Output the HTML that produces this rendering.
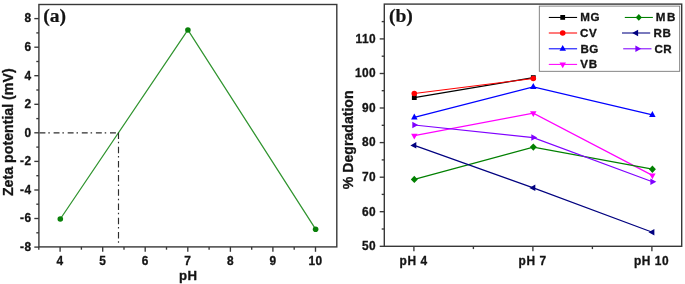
<!DOCTYPE html>
<html><head><meta charset="utf-8"><title>Zeta potential and degradation vs pH</title>
<style>
html,body{margin:0;padding:0;background:#fff;}
body{width:685px;height:284px;overflow:hidden;font-family:"Liberation Sans",sans-serif;}
svg{display:block}
.t{font-family:"Liberation Sans",sans-serif;font-weight:bold;fill:#141414;}
.s{font-family:"Liberation Serif",serif;font-weight:bold;fill:#141414;}
</style></head><body>
<svg width="685" height="284" viewBox="0 0 685 284">
<rect width="685" height="284" fill="#fff"/>
<g opacity="0.999">
<!-- panel a -->
<polyline fill="none" stroke="#30942f" stroke-width="1.25" points="60.3,219.0 187.9,30.0 315.6,229.2"/>
<circle cx="60.3" cy="219.0" r="2.8" fill="#0a800a"/>
<circle cx="187.9" cy="30.0" r="2.8" fill="#0a800a"/>
<circle cx="315.6" cy="229.2" r="2.8" fill="#0a800a"/>
<line x1="39.5" y1="132.85" x2="118.5" y2="132.85" stroke="#2e2e2e" stroke-width="1.15" stroke-dasharray="5.9 2.9 1.5 3.8"/>
<line x1="118.5" y1="132.5" x2="118.5" y2="242.7" stroke="#2e2e2e" stroke-width="1.15" stroke-dasharray="6.5 2.85 1.5 3.35"/>
<rect x="38.9" y="4.5" width="297.9" height="242.4" fill="none" stroke="#383838" stroke-width="1.4"/>
<line x1="34.3" y1="247.1" x2="38.9" y2="247.1" stroke="#383838" stroke-width="1.35"/>
<text class="t" transform="translate(31.40 250.89)" font-size="11.9" text-anchor="end" letter-spacing="0.4" stroke="#141414" stroke-width="0.3">-8</text>
<line x1="34.3" y1="218.5" x2="38.9" y2="218.5" stroke="#383838" stroke-width="1.35"/>
<text class="t" transform="translate(31.40 222.33)" font-size="11.9" text-anchor="end" letter-spacing="0.4" stroke="#141414" stroke-width="0.3">-6</text>
<line x1="34.3" y1="190.0" x2="38.9" y2="190.0" stroke="#383838" stroke-width="1.35"/>
<text class="t" transform="translate(31.40 193.77)" font-size="11.9" text-anchor="end" letter-spacing="0.4" stroke="#141414" stroke-width="0.3">-4</text>
<line x1="34.3" y1="161.4" x2="38.9" y2="161.4" stroke="#383838" stroke-width="1.35"/>
<text class="t" transform="translate(31.40 165.21)" font-size="11.9" text-anchor="end" letter-spacing="0.4" stroke="#141414" stroke-width="0.3">-2</text>
<line x1="34.3" y1="132.8" x2="38.9" y2="132.8" stroke="#383838" stroke-width="1.35"/>
<text class="t" transform="translate(31.40 136.65)" font-size="11.9" text-anchor="end" letter-spacing="0.4" stroke="#141414" stroke-width="0.3">0</text>
<line x1="34.3" y1="104.3" x2="38.9" y2="104.3" stroke="#383838" stroke-width="1.35"/>
<text class="t" transform="translate(31.40 108.09)" font-size="11.9" text-anchor="end" letter-spacing="0.4" stroke="#141414" stroke-width="0.3">2</text>
<line x1="34.3" y1="75.7" x2="38.9" y2="75.7" stroke="#383838" stroke-width="1.35"/>
<text class="t" transform="translate(31.40 79.53)" font-size="11.9" text-anchor="end" letter-spacing="0.4" stroke="#141414" stroke-width="0.3">4</text>
<line x1="34.3" y1="47.2" x2="38.9" y2="47.2" stroke="#383838" stroke-width="1.35"/>
<text class="t" transform="translate(31.40 50.97)" font-size="11.9" text-anchor="end" letter-spacing="0.4" stroke="#141414" stroke-width="0.3">6</text>
<line x1="34.3" y1="18.6" x2="38.9" y2="18.6" stroke="#383838" stroke-width="1.35"/>
<text class="t" transform="translate(31.40 22.41)" font-size="11.9" text-anchor="end" letter-spacing="0.4" stroke="#141414" stroke-width="0.3">8</text>
<line x1="36.3" y1="232.8" x2="38.9" y2="232.8" stroke="#383838" stroke-width="1.35"/>
<line x1="36.3" y1="204.2" x2="38.9" y2="204.2" stroke="#383838" stroke-width="1.35"/>
<line x1="36.3" y1="175.7" x2="38.9" y2="175.7" stroke="#383838" stroke-width="1.35"/>
<line x1="36.3" y1="147.1" x2="38.9" y2="147.1" stroke="#383838" stroke-width="1.35"/>
<line x1="36.3" y1="118.6" x2="38.9" y2="118.6" stroke="#383838" stroke-width="1.35"/>
<line x1="36.3" y1="90.0" x2="38.9" y2="90.0" stroke="#383838" stroke-width="1.35"/>
<line x1="36.3" y1="61.5" x2="38.9" y2="61.5" stroke="#383838" stroke-width="1.35"/>
<line x1="36.3" y1="32.9" x2="38.9" y2="32.9" stroke="#383838" stroke-width="1.35"/>
<line x1="60.1" y1="246.9" x2="60.1" y2="251.8" stroke="#383838" stroke-width="1.35"/>
<text class="t" transform="translate(60.10 264.70)" font-size="11.9" text-anchor="middle" letter-spacing="0.4" stroke="#141414" stroke-width="0.3">4</text>
<line x1="102.7" y1="246.9" x2="102.7" y2="251.8" stroke="#383838" stroke-width="1.35"/>
<text class="t" transform="translate(102.67 264.70)" font-size="11.9" text-anchor="middle" letter-spacing="0.4" stroke="#141414" stroke-width="0.3">5</text>
<line x1="145.2" y1="246.9" x2="145.2" y2="251.8" stroke="#383838" stroke-width="1.35"/>
<text class="t" transform="translate(145.24 264.70)" font-size="11.9" text-anchor="middle" letter-spacing="0.4" stroke="#141414" stroke-width="0.3">6</text>
<line x1="187.8" y1="246.9" x2="187.8" y2="251.8" stroke="#383838" stroke-width="1.35"/>
<text class="t" transform="translate(187.81 264.70)" font-size="11.9" text-anchor="middle" letter-spacing="0.4" stroke="#141414" stroke-width="0.3">7</text>
<line x1="230.4" y1="246.9" x2="230.4" y2="251.8" stroke="#383838" stroke-width="1.35"/>
<text class="t" transform="translate(230.38 264.70)" font-size="11.9" text-anchor="middle" letter-spacing="0.4" stroke="#141414" stroke-width="0.3">8</text>
<line x1="272.9" y1="246.9" x2="272.9" y2="251.8" stroke="#383838" stroke-width="1.35"/>
<text class="t" transform="translate(272.95 264.70)" font-size="11.9" text-anchor="middle" letter-spacing="0.4" stroke="#141414" stroke-width="0.3">9</text>
<line x1="315.5" y1="246.9" x2="315.5" y2="251.8" stroke="#383838" stroke-width="1.35"/>
<text class="t" transform="translate(315.52 264.70)" font-size="11.9" text-anchor="middle" letter-spacing="0.4" stroke="#141414" stroke-width="0.3">10</text>
<line x1="38.8" y1="246.9" x2="38.8" y2="249.7" stroke="#383838" stroke-width="1.35"/>
<line x1="81.4" y1="246.9" x2="81.4" y2="249.7" stroke="#383838" stroke-width="1.35"/>
<line x1="124.0" y1="246.9" x2="124.0" y2="249.7" stroke="#383838" stroke-width="1.35"/>
<line x1="166.5" y1="246.9" x2="166.5" y2="249.7" stroke="#383838" stroke-width="1.35"/>
<line x1="209.1" y1="246.9" x2="209.1" y2="249.7" stroke="#383838" stroke-width="1.35"/>
<line x1="251.7" y1="246.9" x2="251.7" y2="249.7" stroke="#383838" stroke-width="1.35"/>
<line x1="294.2" y1="246.9" x2="294.2" y2="249.7" stroke="#383838" stroke-width="1.35"/>
<text class="t" transform="translate(188.25 280.00)" font-size="13.2" text-anchor="middle" letter-spacing="0.5" stroke="#141414" stroke-width="0.3">pH</text>
<text class="t" transform="translate(13.00 132.20) rotate(-90)" font-size="14.2" text-anchor="middle" stroke="#141414" stroke-width="0.3">Zeta potential (mV)</text>
<text class="s" transform="translate(43.20 22.20)" font-size="19.6" stroke="#141414" stroke-width="0.2">(a)</text>
<!-- panel b -->
<rect x="384.3" y="4.1" width="297.4" height="242.2" fill="none" stroke="#383838" stroke-width="1.4"/>
<line x1="379.7" y1="246.3" x2="384.3" y2="246.3" stroke="#383838" stroke-width="1.35"/>
<text class="t" transform="translate(376.00 250.10)" font-size="11.9" text-anchor="end" letter-spacing="0.4" stroke="#141414" stroke-width="0.3">50</text>
<line x1="379.7" y1="211.7" x2="384.3" y2="211.7" stroke="#383838" stroke-width="1.35"/>
<text class="t" transform="translate(376.00 215.53)" font-size="11.9" text-anchor="end" letter-spacing="0.4" stroke="#141414" stroke-width="0.3">60</text>
<line x1="379.7" y1="177.2" x2="384.3" y2="177.2" stroke="#383838" stroke-width="1.35"/>
<text class="t" transform="translate(376.00 180.96)" font-size="11.9" text-anchor="end" letter-spacing="0.4" stroke="#141414" stroke-width="0.3">70</text>
<line x1="379.7" y1="142.6" x2="384.3" y2="142.6" stroke="#383838" stroke-width="1.35"/>
<text class="t" transform="translate(376.00 146.39)" font-size="11.9" text-anchor="end" letter-spacing="0.4" stroke="#141414" stroke-width="0.3">80</text>
<line x1="379.7" y1="108.0" x2="384.3" y2="108.0" stroke="#383838" stroke-width="1.35"/>
<text class="t" transform="translate(376.00 111.82)" font-size="11.9" text-anchor="end" letter-spacing="0.4" stroke="#141414" stroke-width="0.3">90</text>
<line x1="379.7" y1="73.5" x2="384.3" y2="73.5" stroke="#383838" stroke-width="1.35"/>
<text class="t" transform="translate(376.00 77.25)" font-size="11.9" text-anchor="end" letter-spacing="0.4" stroke="#141414" stroke-width="0.3">100</text>
<line x1="379.7" y1="38.9" x2="384.3" y2="38.9" stroke="#383838" stroke-width="1.35"/>
<text class="t" transform="translate(376.00 42.68)" font-size="11.9" text-anchor="end" letter-spacing="0.4" stroke="#141414" stroke-width="0.3">110</text>
<line x1="381.7" y1="229.0" x2="384.3" y2="229.0" stroke="#383838" stroke-width="1.35"/>
<line x1="381.7" y1="194.4" x2="384.3" y2="194.4" stroke="#383838" stroke-width="1.35"/>
<line x1="381.7" y1="159.9" x2="384.3" y2="159.9" stroke="#383838" stroke-width="1.35"/>
<line x1="381.7" y1="125.3" x2="384.3" y2="125.3" stroke="#383838" stroke-width="1.35"/>
<line x1="381.7" y1="90.7" x2="384.3" y2="90.7" stroke="#383838" stroke-width="1.35"/>
<line x1="381.7" y1="56.2" x2="384.3" y2="56.2" stroke="#383838" stroke-width="1.35"/>
<line x1="381.7" y1="21.6" x2="384.3" y2="21.6" stroke="#383838" stroke-width="1.35"/>
<line x1="413.9" y1="246.3" x2="413.9" y2="251.2" stroke="#383838" stroke-width="1.35"/>
<text class="t" transform="translate(413.60 264.60)" font-size="11.9" text-anchor="middle" letter-spacing="0.6" stroke="#141414" stroke-width="0.3">pH 4</text>
<line x1="532.9" y1="246.3" x2="532.9" y2="251.2" stroke="#383838" stroke-width="1.35"/>
<text class="t" transform="translate(532.60 264.60)" font-size="11.9" text-anchor="middle" letter-spacing="0.6" stroke="#141414" stroke-width="0.3">pH 7</text>
<line x1="651.9" y1="246.3" x2="651.9" y2="251.2" stroke="#383838" stroke-width="1.35"/>
<text class="t" transform="translate(651.60 264.60)" font-size="11.9" text-anchor="middle" letter-spacing="0.6" stroke="#141414" stroke-width="0.3">pH 10</text>
<line x1="473.4" y1="246.3" x2="473.4" y2="249.1" stroke="#383838" stroke-width="1.35"/>
<line x1="592.4" y1="246.3" x2="592.4" y2="249.1" stroke="#383838" stroke-width="1.35"/>
<text class="t" transform="translate(353.30 139.80) rotate(-90)" font-size="14.1" text-anchor="middle" stroke="#141414" stroke-width="0.3">% Degradation</text>
<text class="s" transform="translate(388.90 22.20)" font-size="19.6" stroke="#141414" stroke-width="0.2">(b)</text>
<polyline fill="none" stroke="#000000" stroke-width="1.2" points="414.3,97.6 533.3,77.6"/>
<polyline fill="none" stroke="#ff0000" stroke-width="1.2" points="414.3,93.5 533.3,78.5"/>
<polyline fill="none" stroke="#0000ff" stroke-width="1.2" points="414.3,117.4 533.3,86.9 652.4,114.9"/>
<polyline fill="none" stroke="#ff00ff" stroke-width="1.2" points="414.3,135.7 533.3,113.2 652.4,175.4"/>
<polyline fill="none" stroke="#008000" stroke-width="1.2" points="414.3,179.4 533.3,147.1 652.4,169.2"/>
<polyline fill="none" stroke="#000080" stroke-width="1.2" points="414.3,145.4 533.3,187.9 652.4,232.3"/>
<polyline fill="none" stroke="#8000ff" stroke-width="1.2" points="414.3,125.0 533.3,137.6 652.4,181.7"/>
<rect x="411.9" y="95.2" width="4.8" height="4.8" fill="#000000"/>
<rect x="530.9" y="75.2" width="4.8" height="4.8" fill="#000000"/>
<circle cx="414.3" cy="93.5" r="2.8" fill="#ff0000"/>
<circle cx="533.3" cy="78.5" r="2.8" fill="#ff0000"/>
<polygon points="414.3,113.5 417.6,119.4 411.1,119.4" fill="#0000ff"/>
<polygon points="533.3,83.0 536.5,88.9 530.0,88.9" fill="#0000ff"/>
<polygon points="652.4,111.0 655.6,116.9 649.1,116.9" fill="#0000ff"/>
<polygon points="414.3,139.6 417.6,133.7 411.1,133.7" fill="#ff00ff"/>
<polygon points="533.3,117.1 536.5,111.2 530.0,111.2" fill="#ff00ff"/>
<polygon points="652.4,179.3 655.6,173.4 649.1,173.4" fill="#ff00ff"/>
<polygon points="414.3,175.7 417.8,179.4 414.3,183.1 410.8,179.4" fill="#008000"/>
<polygon points="533.3,143.4 536.8,147.1 533.3,150.8 529.8,147.1" fill="#008000"/>
<polygon points="652.4,165.5 655.9,169.2 652.4,172.9 648.9,169.2" fill="#008000"/>
<polygon points="410.4,145.4 416.3,142.1 416.3,148.6" fill="#000080"/>
<polygon points="529.4,187.9 535.3,184.6 535.3,191.1" fill="#000080"/>
<polygon points="648.5,232.3 654.4,229.0 654.4,235.5" fill="#000080"/>
<polygon points="418.2,125.0 412.3,121.7 412.3,128.2" fill="#8000ff"/>
<polygon points="537.2,137.6 531.3,134.3 531.3,140.8" fill="#8000ff"/>
<polygon points="656.3,181.7 650.4,178.4 650.4,184.9" fill="#8000ff"/>
<!-- legend -->
<rect x="539.3" y="6.1" width="140.4" height="65.2" fill="#fff" stroke="#707070" stroke-width="0.85"/>
<line x1="548.8" y1="17.45" x2="577.1" y2="17.45" stroke="#000000" stroke-width="1.05"/>
<rect x="560.3" y="15.0" width="4.8" height="4.8" fill="#000000"/>
<text class="t" transform="translate(580.30 21.25)" font-size="11.6" letter-spacing="0.6" stroke="#141414" stroke-width="0.3">MG</text>
<line x1="548.8" y1="33.0" x2="577.1" y2="33.0" stroke="#ff0000" stroke-width="1.05"/>
<circle cx="562.7" cy="33.0" r="2.8" fill="#ff0000"/>
<text class="t" transform="translate(580.00 36.80)" font-size="11.6" letter-spacing="0.6" stroke="#141414" stroke-width="0.3">CV</text>
<line x1="548.8" y1="48.8" x2="577.1" y2="48.8" stroke="#0000ff" stroke-width="1.05"/>
<polygon points="562.7,44.9 566.0,50.8 559.5,50.8" fill="#0000ff"/>
<text class="t" transform="translate(580.40 52.60)" font-size="11.6" letter-spacing="0.6" stroke="#141414" stroke-width="0.3">BG</text>
<line x1="548.8" y1="64.4" x2="577.1" y2="64.4" stroke="#ff00ff" stroke-width="1.05"/>
<polygon points="562.7,68.3 566.0,62.4 559.5,62.4" fill="#ff00ff"/>
<text class="t" transform="translate(580.30 68.20)" font-size="11.6" letter-spacing="0.6" stroke="#141414" stroke-width="0.3">VB</text>
<line x1="624.8" y1="17.45" x2="652.9" y2="17.45" stroke="#008000" stroke-width="1.05"/>
<polygon points="638.8,14.0 641.9,17.4 638.8,20.8 635.7,17.4" fill="#008000"/>
<text class="t" transform="translate(655.80 21.25)" font-size="11.6" letter-spacing="1.5" stroke="#141414" stroke-width="0.3">MB</text>
<line x1="622.0" y1="33.0" x2="650.2" y2="33.0" stroke="#000080" stroke-width="1.05"/>
<polygon points="632.2,33.0 638.1,29.8 638.1,36.2" fill="#000080"/>
<text class="t" transform="translate(653.60 36.80)" font-size="11.6" letter-spacing="0.6" stroke="#141414" stroke-width="0.3">RB</text>
<line x1="623.2" y1="48.8" x2="651.5" y2="48.8" stroke="#8000ff" stroke-width="1.05"/>
<polygon points="641.2,48.8 635.4,45.5 635.4,52.0" fill="#8000ff"/>
<text class="t" transform="translate(654.40 52.60)" font-size="11.6" letter-spacing="0.6" stroke="#141414" stroke-width="0.3">CR</text>
</g>
</svg>
</body></html>
